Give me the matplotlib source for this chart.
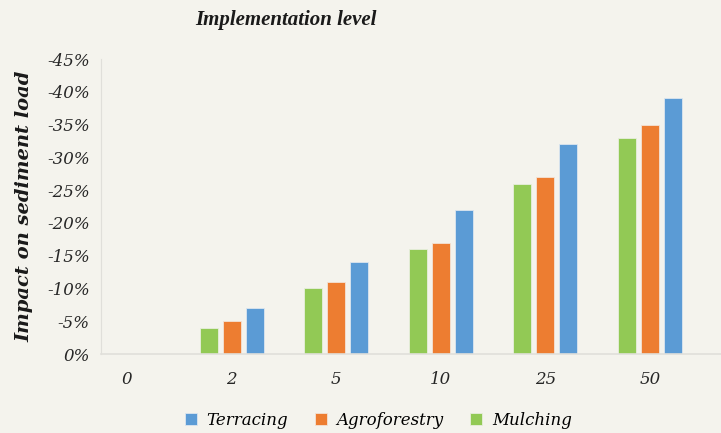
import matplotlib
matplotlib.use("Agg")
import matplotlib.pyplot as plt
import numpy as np

# Data
levels = ["0", "2", "5", "10", "25", "50"]
mulching = [0, -4, -10, -16, -26, -33]
agroforestry = [0, -5, -11, -17, -27, -35]
terracing = [0, -7, -14, -22, -32, -39]
yticks = [0, -5, -10, -15, -20, -25, -30, -35, -40, -45]

BG = "#F4F3ED"
COLORS = {"Terracing": "#5B9BD5", "Agroforestry": "#ED7D31", "Mulching": "#92C955"}
FONT = "DejaVu Serif"

fig = plt.figure(figsize=(7.21, 4.33), dpi=100, facecolor=BG)
ax = fig.add_axes([0.14, 0.1824, 0.86, 0.6813], facecolor=BG)

x = np.arange(len(levels))
w = 0.17
step = 0.22
ax.bar(x - step, mulching, w, color=COLORS["Mulching"], edgecolor="#E8EEDD", linewidth=0.6, label="Mulching")
ax.bar(x, agroforestry, w, color=COLORS["Agroforestry"], edgecolor="#F3E3D6", linewidth=0.6, label="Agroforestry")
ax.bar(x + step, terracing, w, color=COLORS["Terracing"], edgecolor="#DCE6EF", linewidth=0.6, label="Terracing")

ax.set_ylim(0, -45)
ax.set_xlim(-0.25, 5.68)
ax.set_yticks(yticks)
ax.set_yticklabels([f"{v}%" for v in yticks], fontfamily=FONT, fontstyle="italic", fontsize=12, color="#262626")
ax.set_xticks(x)
ax.set_xticklabels(levels, fontfamily=FONT, fontstyle="italic", fontsize=12, color="#262626")
ax.tick_params(axis="both", length=0)
ax.tick_params(axis="x", pad=12)
ax.tick_params(axis="y", pad=8)

for s in ["top", "right"]:
    ax.spines[s].set_visible(False)
ax.spines["left"].set_color("#E0DFDA")
ax.spines["bottom"].set_color("#E0DFDA")
ax.spines["bottom"].set_linewidth(1.2)

ax.set_ylabel("Impact on sediment load", fontfamily=FONT, fontstyle="italic", fontweight="bold",
              fontsize=14, color="#1a1a1a", labelpad=10)
fig.text(0.397, 0.943, "Implementation level", fontfamily="Liberation Serif", fontstyle="italic",
         fontweight="bold", fontsize=15, color="#1a1a1a", ha="center", va="baseline")

handles, labels = ax.get_legend_handles_labels()
order = [2, 1, 0]
leg = fig.legend([handles[i] for i in order], [labels[i] for i in order],
                 loc="center", bbox_to_anchor=(0.525, 0.03), ncol=3, frameon=False,
                 prop={"family": FONT, "style": "italic", "size": 12},
                 handlelength=0.7, handleheight=0.7, handletextpad=0.6, columnspacing=1.6)

fig.savefig("out.png", dpi=100, facecolor=BG)
